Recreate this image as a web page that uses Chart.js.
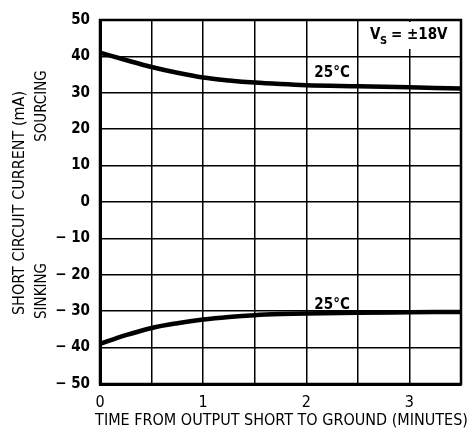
<!DOCTYPE html>
<html>
<head>
<meta charset="utf-8">
<script src="https://cdn.jsdelivr.net/npm/chart.js@4"></script>
<style>
  html, body { margin: 0; padding: 0; background: #fff; }
  canvas { display: block; }
</style>
</head>
<body>
<canvas id="chart" width="471" height="434"></canvas>
<script>
// time from output short to ground, minutes
const times = [0, 0.25, 0.5, 0.75, 1, 1.25, 1.5, 1.75, 2, 2.5, 3, 3.5];
// short circuit current, mA (25°C)
const sourcing = [41, 39, 37.1, 35.5, 34.2, 33.4, 32.8, 32.4, 32.1, 31.8, 31.5, 31.2];
const sinking = [-39, -36.6, -34.6, -33.3, -32.3, -31.6, -31.1, -30.8, -30.6, -30.4, -30.3, -30.2];
const xTicks = [0, 1, 2, 3];

const FONT = '"Liberation Sans Narrow", "DejaVu Sans Condensed", "Arial Narrow", sans-serif';

const pts = ys => times.map((t, i) => ({ x: t, y: ys[i] }));

function rotText(ctx, text, cx, cy, size) {
    ctx.save();
    ctx.fillStyle = '#000';
    ctx.textAlign = 'center';
    ctx.textBaseline = 'middle';
    ctx.font = size + 'px ' + FONT;
    ctx.translate(cx, cy);
    ctx.rotate(-Math.PI / 2);
    ctx.fillText(text, 0, 0);
    ctx.restore();
}

const overlay = {
    id: 'overlay',
    afterDraw(chart) {
        const { ctx, chartArea: a, scales: { x, y } } = chart;
        ctx.save();

        // frame
        ctx.strokeStyle = '#000';
        ctx.lineWidth = 2.5;
        ctx.strokeRect(a.left, a.top, a.right - a.left, a.bottom - a.top);

        // V_S box
        ctx.fillStyle = '#fff';
        ctx.fillRect(366, a.top + 2, a.right - 368, 27);
        ctx.fillStyle = '#000';
        ctx.textBaseline = 'middle';
        ctx.textAlign = 'left';
        ctx.font = 'bold 15px ' + FONT;
        ctx.fillText('V', 370, 35);
        ctx.font = 'bold 11px ' + FONT;
        ctx.fillText('S', 380, 41);
        ctx.font = 'bold 15px ' + FONT;
        ctx.fillText('= \u00b118V', 391, 35);

        // curve labels
        ctx.textAlign = 'center';
        ctx.font = 'bold 15px ' + FONT;
        ctx.fillText('25\u00b0C', x.getPixelForValue(2.25), y.getPixelForValue(35.5));
        ctx.fillText('25\u00b0C', x.getPixelForValue(2.25), y.getPixelForValue(-28.3));

        // x axis title
        ctx.font = '16px ' + FONT;
        ctx.fillText('TIME FROM OUTPUT SHORT TO GROUND (MINUTES)', (a.left + a.right) / 2 + 1, 421);
        ctx.restore();

        // y axis titles
        rotText(ctx, 'SHORT CIRCUIT CURRENT (mA)', 20, 203, 16);
        rotText(ctx, 'SOURCING', 42, 106, 15);
        rotText(ctx, 'SINKING', 42, 291, 15);
    }
};

new Chart(document.getElementById('chart'), {
    type: 'line',
    data: {
        datasets: [
            { data: pts(sourcing), borderColor: '#000', borderWidth: 4.5, pointRadius: 0, cubicInterpolationMode: 'monotone' },
            { data: pts(sinking), borderColor: '#000', borderWidth: 4.5, pointRadius: 0, cubicInterpolationMode: 'monotone' }
        ]
    },
    options: {
        responsive: false,
        animation: false,
        devicePixelRatio: 1,
        layout: { padding: { top: 20, right: 10, left: 0, bottom: 0 } },
        plugins: { legend: { display: false }, tooltip: { enabled: false } },
        scales: {
            x: {
                type: 'linear',
                min: 0,
                max: 3.5,
                ticks: {
                    stepSize: 0.5,
                    autoSkip: false,
                    maxRotation: 0,
                    padding: 9,
                    color: '#000',
                    font: { family: FONT, size: 16 },
                    callback: v => xTicks.includes(v) ? String(v) : ''
                },
                grid: { color: '#000', lineWidth: 1.5, drawTicks: false },
                border: { color: '#000', width: 3 },
                afterFit: s => { s.height = 50; }
            },
            y: {
                min: -50,
                max: 50,
                ticks: {
                    stepSize: 10,
                    padding: 10,
                    color: '#000',
                    font: { family: FONT, size: 15, weight: 'bold' },
                    callback: v => v < 0 ? '\u2212 ' + Math.abs(v) : String(v)
                },
                grid: { color: '#000', lineWidth: 1.5, drawTicks: false },
                border: { color: '#000', width: 3 },
                afterFit: s => { s.width = 100; }
            }
        }
    },
    plugins: [overlay]
});
</script>
</body>
</html>
